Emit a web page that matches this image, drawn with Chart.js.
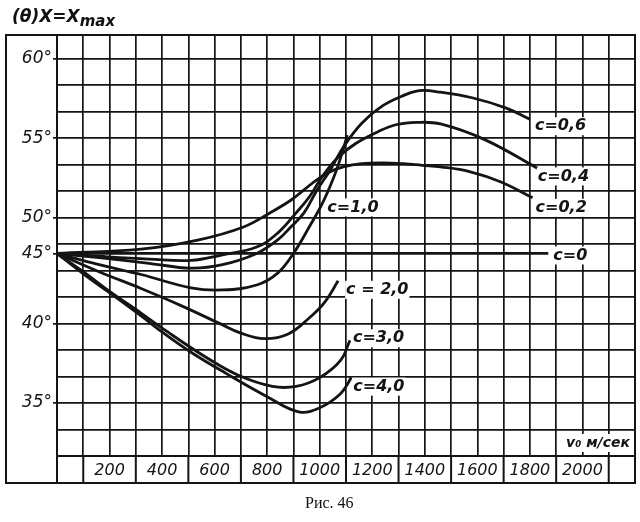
<!DOCTYPE html>
<html>
<head>
<meta charset="utf-8">
<script src="https://cdn.jsdelivr.net/npm/chart.js@4.4.1/dist/chart.umd.min.js"></script>
<style>
  body { margin: 0; background: #fff; }
  #wrap { position: relative; width: 640px; height: 522px; }
  #ytitle { position: absolute; left: 12px; top: 6px; font: italic bold 17px "DejaVu Sans", sans-serif; color: #111; }
  #ytitle sub { font-size: 15px; vertical-align: -4px; }
  #caption { position: absolute; left: 305px; top: 494px; font: 16px "Liberation Serif", serif; color: #111; }
</style>
</head>
<body>
<div id="wrap">
  <canvas id="chart" width="640" height="522"></canvas>
  <div id="ytitle">(θ)X=X<sub>max</sub></div>
  <div id="caption">Рис. 46</div>
</div>
<script>
// v0 in m/s, angle of max range in degrees, one pair of arrays per curve
const speed00 = [0, 1870];
const angle00 = [45, 45];

const speed02 = [0, 320, 540, 710, 810, 890, 940, 990, 1040, 1090, 1160, 1240, 1320, 1390, 1460, 1570, 1690, 1810];
const angle02 = [45, 45.6, 46.9, 48.7, 50.3, 51.1, 51.75, 52.4, 52.9, 53.2, 53.4, 53.45, 53.4, 53.3, 53.2, 52.9, 52.25, 51.25];

const speed04 = [0, 160, 350, 510, 630, 760, 840, 910, 960, 1010, 1070, 1140, 1220, 1290, 1370, 1460, 1630, 1830];
const angle04 = [45, 44.8, 44.6, 44.5, 44.9, 45.9, 47.85, 50.3, 51.3, 52.6, 53.8, 54.7, 55.4, 55.85, 56.0, 55.9, 54.9, 53.1];

const speed06 = [0, 160, 350, 510, 630, 760, 840, 890, 940, 990, 1040, 1090, 1160, 1240, 1320, 1380, 1460, 1580, 1710, 1800];
const angle06 = [45, 44.7, 44.3, 43.95, 44.2, 45.0, 46.9, 48.7, 50.3, 51.75, 53.0, 54.45, 55.95, 57.05, 57.7, 58.0, 57.9, 57.55, 56.9, 56.2];

const speed10 = [0, 160, 320, 510, 630, 760, 840, 900, 960, 1010, 1050, 1080, 1105];
const angle10 = [45, 44.2, 43.5, 42.55, 42.4, 42.75, 43.6, 45.0, 48.7, 50.9, 52.4, 53.8, 55.2];

const speed20 = [0, 160, 320, 470, 620, 700, 790, 880, 960, 1020, 1070];
const angle20 = [45, 43.7, 42.5, 41.3, 40.0, 39.4, 39.05, 39.35, 40.4, 41.55, 43.05];

const speed30 = [0, 100, 200, 320, 410, 570, 690, 820, 910, 1000, 1080, 1115];
const angle30 = [45, 43.7, 42.3, 40.75, 39.6, 37.85, 36.75, 36.05, 36.05, 36.6, 37.7, 38.95];

const speed40 = [0, 100, 200, 320, 410, 510, 640, 800, 920, 1000, 1080, 1120];
const angle40 = [45, 43.55, 42.2, 40.55, 39.35, 38.2, 36.9, 35.4, 34.45, 34.7, 35.6, 36.6];

const curveNames = ['c=0', 'c=0,2', 'c=0,4', 'c=0,6', 'c=1,0', 'c = 2,0', 'c=3,0', 'c=4,0'];

// the angle axis of the figure is not uniform: labelled angles sit on these grid rows
const angleTicks = [35, 40, 45, 50, 55, 60];
const angleRows = [2, 5, 7.65, 9, 12, 15];

const speedLabels = [200, 400, 600, 800, 1000, 1200, 1400, 1600, 1800, 2000];

// where each curve's name goes: point index (-1 = last) and pixel offset
const nameSpots = [[-1, 5, 2], [-1, 3, 10], [-1, 0, 8], [-1, 5, 7], [9, 5, 4], [-1, 8, 9], [-1, 3, -2], [-1, 2, 9]];

function interp(xs, ys, x) {
  let i = 1;
  while (i < xs.length - 1 && x > xs[i]) i++;
  const t = (x - xs[i - 1]) / (xs[i] - xs[i - 1]);
  return ys[i - 1] + t * (ys[i] - ys[i - 1]);
}
const toRow = d => interp(angleTicks, angleRows, d);
const fromRow = r => interp(angleRows, angleTicks, r);
const isLabelled = v => angleTicks.some(d => Math.abs(d - v) < 1e-6);

class RowScale extends Chart.LinearScale {
  static id = 'rows';
  determineDataLimits() {
    this.min = fromRow(this.options.rowMin);
    this.max = fromRow(this.options.rowMax);
  }
  buildTicks() {
    const ticks = [];
    for (let r = Math.ceil(this.options.rowMin); r <= this.options.rowMax; r++) {
      ticks.push({ value: fromRow(r), row: true });
    }
    angleTicks.forEach(d => {
      if (!ticks.some(t => Math.abs(t.value - d) < 1e-6)) ticks.push({ value: d, row: false });
    });
    return ticks.sort((a, b) => a.value - b.value);
  }
  getPixelForValue(v) {
    const o = this.options;
    return this.getPixelForDecimal((toRow(v) - o.rowMin) / (o.rowMax - o.rowMin));
  }
  getValueForPixel(p) {
    const o = this.options;
    return fromRow(o.rowMin + this.getDecimalForPixel(p) * (o.rowMax - o.rowMin));
  }
}
Chart.register(RowScale);

const INK = '#141414';
const FONT = '"DejaVu Sans", sans-serif';

function series(speed, angle) {
  return speed.map((v, i) => ({ x: v, y: angle[i] }));
}

const curves = [
  series(speed00, angle00), series(speed02, angle02), series(speed04, angle04), series(speed06, angle06),
  series(speed10, angle10), series(speed20, angle20), series(speed30, angle30), series(speed40, angle40)
];

// frame round the grid, label row cells, curve names and the axis name
const framePlugin = {
  id: 'frame',
  afterDraw(chart) {
    const { ctx, chartArea: a, scales: { x } } = chart;
    const bottom = a.bottom + 27;
    ctx.save();
    ctx.strokeStyle = INK;
    ctx.lineWidth = 2;
    ctx.strokeRect(6, a.top, a.right - 6, bottom - a.top);
    ctx.beginPath();
    ctx.moveTo(a.left, a.top);
    ctx.lineTo(a.left, bottom);
    for (let v = 100; v < 2200; v += 200) {
      const px = x.getPixelForValue(v);
      ctx.moveTo(px, a.bottom);
      ctx.lineTo(px, bottom);
    }
    ctx.stroke();

    ctx.font = 'italic bold 16px ' + FONT;
    ctx.textBaseline = 'middle';
    ctx.textAlign = 'left';
    chart.data.datasets.forEach((ds, i) => {
      const pts = chart.getDatasetMeta(i).data;
      const [idx, dx, dy] = nameSpots[i];
      const p = pts[idx < 0 ? pts.length - 1 : idx];
      const w = ctx.measureText(ds.label).width;
      const tx = p.x + dx, ty = p.y + dy;
      ctx.fillStyle = '#fff';
      ctx.fillRect(tx - 1, ty - 9, w + 2, 18);
      ctx.fillStyle = INK;
      ctx.fillText(ds.label, tx, ty);
    });

    ctx.font = 'italic bold 14px ' + FONT;
    ctx.textAlign = 'right';
    const t = 'v₀ м/сек';
    const w = ctx.measureText(t).width;
    ctx.fillStyle = '#fff';
    ctx.fillRect(a.right - 6 - w, a.bottom - 22, w + 2, 18);
    ctx.fillStyle = INK;
    ctx.fillText(t, a.right - 5, a.bottom - 13);
    ctx.restore();
  }
};

new Chart(document.getElementById('chart'), {
  type: 'line',
  data: {
    datasets: curves.map((pts, i) => ({
      label: curveNames[i],
      data: pts,
      borderColor: INK,
      borderWidth: 2.8,
      pointRadius: 0,
      fill: false,
      tension: 0.4
    }))
  },
  options: {
    responsive: false,
    animation: false,
    layout: { padding: { left: 0, top: 35, right: 5, bottom: 39 } },
    plugins: { legend: { display: false }, tooltip: { enabled: false } },
    scales: {
      x: {
        type: 'linear',
        min: 0,
        max: 2200,
        afterFit: s => { s.height = 27; },
        border: { display: true, color: INK, width: 2 },
        grid: { color: INK, lineWidth: 1.7, drawTicks: false },
        ticks: {
          stepSize: 100,
          autoSkip: false,
          maxRotation: 0,
          padding: 5,
          color: INK,
          font: { family: FONT, size: 16, style: 'italic' },
          callback: v => speedLabels.includes(v) ? String(v) : ''
        }
      },
      y: {
        type: 'rows',
        rowMin: 0,
        rowMax: 15.9,
        afterFit: s => { s.width = 57; },
        border: { display: true, color: INK, width: 2 },
        grid: {
          color: c => (c.tick && c.tick.row === false) ? 'rgba(0,0,0,0)' : INK,
          tickColor: c => (c.tick && isLabelled(c.tick.value)) ? INK : 'rgba(0,0,0,0)',
          lineWidth: 1.7,
          tickLength: 4
        },
        ticks: {
          autoSkip: false,
          padding: 1,
          color: INK,
          font: { family: FONT, size: 17, style: 'italic' },
          callback: v => isLabelled(v) ? Math.round(v) + '°' : ''
        }
      }
    }
  },
  plugins: [framePlugin]
});
</script>
</body>
</html>
